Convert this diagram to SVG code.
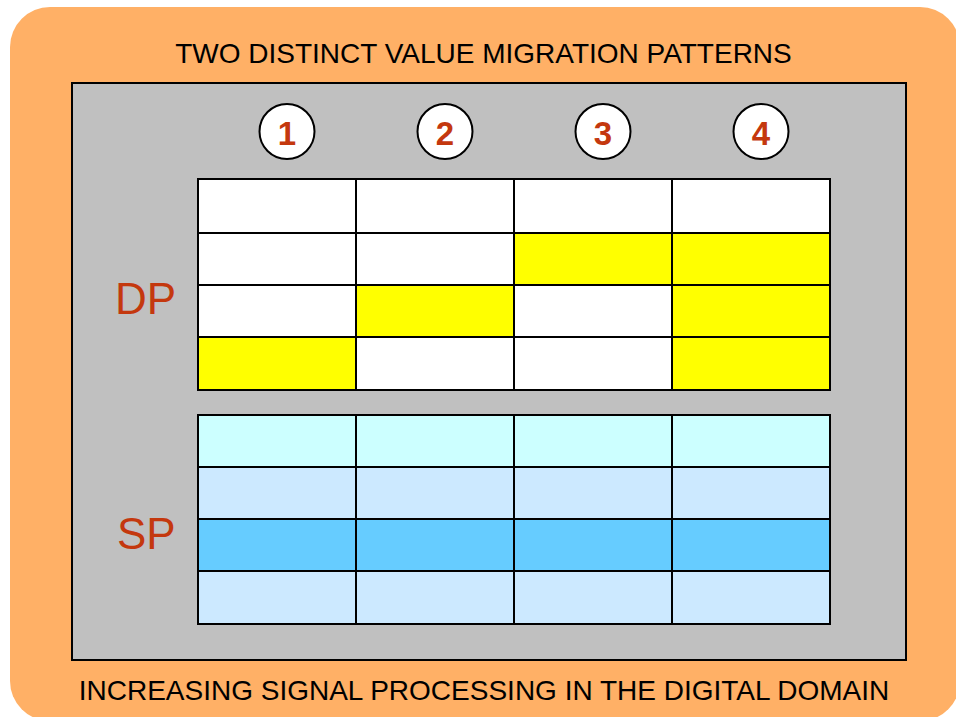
<svg xmlns="http://www.w3.org/2000/svg" width="956" height="717" viewBox="0 0 956 717">
<style>
.cap{font-family:"Liberation Sans",Arial,sans-serif;font-size:28px;fill:#000;text-anchor:middle}
.lbl{font-family:"Liberation Sans",Arial,sans-serif;font-size:44px;fill:#C4380E}
.num{font-family:"Liberation Sans",Arial,sans-serif;font-size:33px;font-weight:bold;fill:#C4380E;text-anchor:middle}
.circ{fill:#fff;stroke:#000;stroke-width:2}
.cell{stroke:#000;stroke-width:2}
.w{fill:#fff}.y{fill:#ffff00}.c1{fill:#ccffff}.c2{fill:#cce9ff}.c3{fill:#66ccff}
</style>
<rect width="956" height="717" fill="#fff"/>
<g id="frame">
<rect x="10" y="7" width="950" height="714" rx="40" fill="#ffb066"/>
<rect x="72" y="83" width="834" height="577" fill="#c0c0c0" stroke="#000" stroke-width="2"/>
<text class="cap" x="483.5" y="63">TWO DISTINCT VALUE MIGRATION PATTERNS</text>
<text class="cap" x="484" y="700">INCREASING SIGNAL PROCESSING IN THE DIGITAL DOMAIN</text>
</g>
<g id="numbers">
<circle class="circ" cx="287" cy="131.5" r="27.5"/><text class="num" x="287" y="145">1</text>
<circle class="circ" cx="445" cy="131.5" r="27.5"/><text class="num" x="445" y="145">2</text>
<circle class="circ" cx="603" cy="131.5" r="27.5"/><text class="num" x="603" y="145">3</text>
<circle class="circ" cx="761" cy="131.5" r="27.5"/><text class="num" x="761" y="145">4</text>
</g>
<g id="dp">
<text class="lbl" x="115" y="314">DP</text>
<rect class="cell w" x="198" y="179" width="158" height="54"/>
<rect class="cell w" x="356" y="179" width="158" height="54"/>
<rect class="cell w" x="514" y="179" width="158" height="54"/>
<rect class="cell w" x="672" y="179" width="158" height="54"/>
<rect class="cell w" x="198" y="233" width="158" height="52"/>
<rect class="cell w" x="356" y="233" width="158" height="52"/>
<rect class="cell y" x="514" y="233" width="158" height="52"/>
<rect class="cell y" x="672" y="233" width="158" height="52"/>
<rect class="cell w" x="198" y="285" width="158" height="52"/>
<rect class="cell y" x="356" y="285" width="158" height="52"/>
<rect class="cell w" x="514" y="285" width="158" height="52"/>
<rect class="cell y" x="672" y="285" width="158" height="52"/>
<rect class="cell y" x="198" y="337" width="158" height="53"/>
<rect class="cell w" x="356" y="337" width="158" height="53"/>
<rect class="cell w" x="514" y="337" width="158" height="53"/>
<rect class="cell y" x="672" y="337" width="158" height="53"/>
</g>
<g id="sp">
<text class="lbl" x="117" y="549">SP</text>
<rect class="cell c1" x="198" y="415" width="158" height="52"/>
<rect class="cell c1" x="356" y="415" width="158" height="52"/>
<rect class="cell c1" x="514" y="415" width="158" height="52"/>
<rect class="cell c1" x="672" y="415" width="158" height="52"/>
<rect class="cell c2" x="198" y="467" width="158" height="52"/>
<rect class="cell c2" x="356" y="467" width="158" height="52"/>
<rect class="cell c2" x="514" y="467" width="158" height="52"/>
<rect class="cell c2" x="672" y="467" width="158" height="52"/>
<rect class="cell c3" x="198" y="519" width="158" height="52"/>
<rect class="cell c3" x="356" y="519" width="158" height="52"/>
<rect class="cell c3" x="514" y="519" width="158" height="52"/>
<rect class="cell c3" x="672" y="519" width="158" height="52"/>
<rect class="cell c2" x="198" y="571" width="158" height="53"/>
<rect class="cell c2" x="356" y="571" width="158" height="53"/>
<rect class="cell c2" x="514" y="571" width="158" height="53"/>
<rect class="cell c2" x="672" y="571" width="158" height="53"/>
</g>
<g id="connectors"/>
</svg>
